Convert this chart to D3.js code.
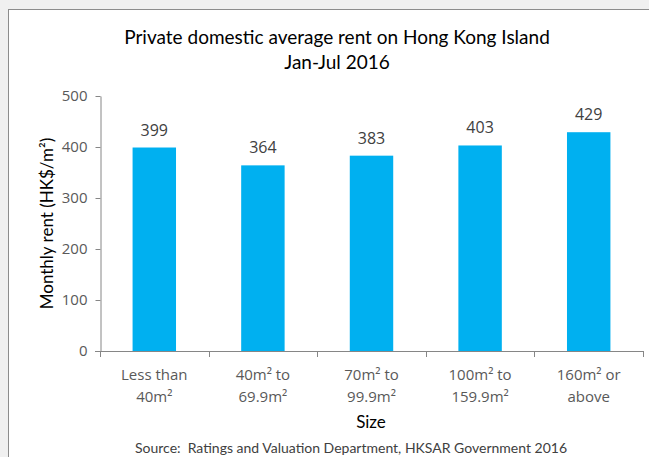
<!DOCTYPE html>
<html lang="en">
<meta charset="utf-8">
<head>
    <script src='https://cdn.jsdelivr.net/npm/d3@7/dist/d3.min.js'></script>
    <style>
        body { margin: 0; background: #f0f0f0; }
        text { font-family: 'Open Sans', sans-serif; }
    </style>
</head>
<body>
<script>

// data
const categories = ["Less than|40m²", "40m² to|69.9m²", "70m² to|99.9m²", "100m² to|159.9m²", "160m² or|above"];
const rents = [399, 364, 383, 403, 429];
const yTicks = [0, 100, 200, 300, 400, 500];

const width = 649,
    height = 457;

// plot area
const margin = {top: 96, right: 6, bottom: 106, left: 100};

const svg = d3.select("body")
    .append("svg")
    .attr("width", width)
    .attr("height", height);

// chart frame
svg.append("rect")
    .attr("x", 8.5)
    .attr("y", 9.5)
    .attr("width", width)
    .attr("height", height)
    .attr("fill", "white")
    .attr("stroke", "#8c8c8c");

const x = d3.scaleBand()
    .domain(categories)
    .range([margin.left, width - margin.right])
    .paddingInner(0.6)
    .paddingOuter(0.3);

// band edges for the category ticks
const step = x.step();
const x0 = x(categories[0]) - x.paddingOuter() * step;

const y = d3.scaleLinear()
    .domain([0, 500])
    .range([height - margin.bottom, margin.top]);

// y axis
const yAxis = svg.append("g")
    .attr("transform", `translate(${margin.left + 0.5},0)`)
    .call(d3.axisLeft(y).tickValues(yTicks).tickSize(5).tickSizeOuter(0).tickPadding(8));
yAxis.select(".domain").attr("stroke", "#868686");
yAxis.selectAll(".tick line").attr("stroke", "#868686");
yAxis.selectAll(".tick text")
    .attr("fill", "#595959")
    .style("font-size", "15px");

// x axis line
svg.append("line")
    .attr("x1", margin.left - 5)
    .attr("x2", x0 + step * categories.length + 0.5)
    .attr("y1", y(0) + 0.5)
    .attr("y2", y(0) + 0.5)
    .attr("stroke", "#868686");

// x tick marks at band edges
svg.selectAll(".xtick")
    .data(d3.range(categories.length + 1))
    .join("line")
    .attr("class", "xtick")
    .attr("x1", d => Math.round(x0 + d * step) + 0.5)
    .attr("x2", d => Math.round(x0 + d * step) + 0.5)
    .attr("y1", y(0))
    .attr("y2", y(0) + 6)
    .attr("stroke", "#868686");

// x tick labels (two lines)
const xl = svg.selectAll(".xlab")
    .data(categories)
    .join("text")
    .attr("class", "xlab")
    .attr("text-anchor", "middle")
    .attr("fill", "#595959")
    .style("font-size", "15px");
xl.selectAll("tspan")
    .data(d => d.split("|").map(s => ({s: s, c: d})))
    .join("tspan")
    .attr("x", d => x(d.c) + x.bandwidth() / 2)
    .attr("y", (d, i) => y(0) + 29 + i * 22)
    .text(d => d.s);

// bars
svg.selectAll(".bar")
    .data(rents)
    .join("rect")
    .attr("class", "bar")
    .attr("x", (d, i) => x(categories[i]))
    .attr("width", x.bandwidth())
    .attr("y", d => y(d))
    .attr("height", d => y(0) - y(d))
    .attr("fill", "#00b0f0");

// value labels
svg.selectAll(".val")
    .data(rents)
    .join("text")
    .attr("class", "val")
    .attr("x", (d, i) => x(categories[i]) + x.bandwidth() / 2)
    .attr("y", d => y(d) - 12)
    .attr("text-anchor", "middle")
    .attr("fill", "#404040")
    .style("font-size", "16px")
    .text(d => d);

// titles
svg.append("text")
    .attr("x", 337)
    .attr("y", 44)
    .attr("text-anchor", "middle")
    .style("font-family", "Lato, sans-serif")
    .style("font-size", "19px")
    .attr("fill", "black")
    .text("Private domestic average rent on Hong Kong Island");
svg.append("text")
    .attr("x", 337)
    .attr("y", 69)
    .attr("text-anchor", "middle")
    .style("font-family", "Lato, sans-serif")
    .style("font-size", "19px")
    .attr("fill", "black")
    .text("Jan-Jul 2016");

// axis titles
svg.append("text")
    .attr("transform", `translate(53,${(y(0) + y(500)) / 2}) rotate(-90)`)
    .attr("text-anchor", "middle")
    .style("font-family", "Lato, sans-serif")
    .style("font-size", "17px")
    .attr("fill", "black")
    .text("Monthly rent (HK$/m²)");

svg.append("text")
    .attr("x", 371)
    .attr("y", 428)
    .attr("text-anchor", "middle")
    .style("font-family", "Lato, sans-serif")
    .style("font-size", "17px")
    .attr("fill", "black")
    .text("Size");

svg.append("text")
    .attr("x", 351)
    .attr("y", 453)
    .attr("text-anchor", "middle")
    .style("font-family", "Lato, sans-serif")
    .style("font-size", "14px")
    .attr("fill", "#404040")
    .style("white-space", "pre")
    .text("Source:  Ratings and Valuation Department, HKSAR Government 2016");

</script>
</body>
</html>
